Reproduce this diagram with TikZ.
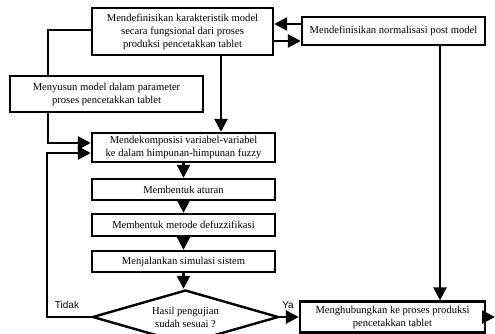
\documentclass[tikz,border=0pt]{standalone}
\usepackage{fontspec}
\setmainfont{Liberation Serif}
\newfontfamily\labelfont{Liberation Sans}
\usetikzlibrary{shapes.geometric, arrows.meta, positioning}
\tikzset{
	proc/.style ={rectangle, draw=black, line width=2.4pt, align=center, inner sep=1pt, font=\fontsize{10.6}{13}\selectfont},
	cond/.style ={diamond, aspect=3.4, draw=black, line width=2.4pt, align=center, inner sep=0pt, font=\fontsize{10.6}{13}\selectfont},
	flow/.style ={-{Triangle[length=13pt, width=13pt]}, line width=2.6pt},
	link/.style ={line width=2.6pt},
	yesno/.style={font=\labelfont\fontsize{10}{12}\selectfont},
}
\begin{document}
\begin{tikzpicture}[x=1pt, y=-1pt]
	\useasboundingbox (0,0) rectangle (495,334);
	% boxes
	\node[proc, minimum width=181pt, minimum height=47pt] (karakter) at (182.5,31.5) {Mendefinisikan karakteristik model\\secara fungsional dari proses\\produksi pencetakkan tablet};
	\node[proc, minimum width=183pt, minimum height=28pt] (normal) at (393.5,31) {Mendefinisikan normalisasi post model};
	\node[proc, minimum width=193pt, minimum height=36pt] (susun) at (106.5,94) {Menyusun model dalam parameter\\proses pencetakkan tablet};
	\node[proc, minimum width=183pt, minimum height=29pt] (dekomp) at (183.5,147.5) {Mendekomposisi variabel-variabel\\ke dalam himpunan-himpunan fuzzy};
	\node[proc, minimum width=183pt, minimum height=21pt] (aturan) at (183.5,189.5) {Membentuk aturan};
	\node[proc, minimum width=183pt, minimum height=22pt] (defuz) at (183.5,225) {Membentuk metode defuzzifikasi};
	\node[proc, minimum width=183pt, minimum height=21pt] (simul) at (183.5,261.5) {Menjalankan simulasi sistem};
	\node[cond, minimum width=186pt, minimum height=54pt] (uji) at (185.5,317) {Hasil pengujian\\sudah sesuai ?};
	\node[proc, minimum width=185pt, minimum height=31pt] (hubung) at (392.5,317) {Menghubungkan ke proses produksi\\pencetakkan tablet};
	\coordinate (keluar) at (495,317);
	% labels
	\node[yesno] (tidak) at (67,305) {Tidak};
	\node[yesno] (ya) at (288,305) {Ya};
	% connectors
	\draw[flow] ([yshift=7pt]normal.west) -- ([yshift=7.5pt]karakter.east);
	\draw[flow] ([yshift=-9.5pt]karakter.east) -- ([yshift=-10pt]normal.west);
	\draw[link] ([yshift=1.5pt]karakter.west) -| ([xshift=-58.5pt]susun.north);
	\draw[flow] ([xshift=-58.5pt]susun.south) |- ([yshift=4.5pt]dekomp.west);
	\draw[flow] ([xshift=38.5pt]karakter.south) -- ([xshift=37.5pt]dekomp.north);
	\draw[flow] (dekomp.south) -- (aturan.north);
	\draw[flow] (aturan.south) -- (defuz.north);
	\draw[flow] (defuz.south) -- (simul.north);
	\draw[flow] (simul.south) -- (simul.south |- uji.north);
	\draw[flow] (uji.west) -- ++(-44.5,0) |- ([yshift=-5.5pt]dekomp.west);
	\draw[flow] (uji.east) -- (hubung.west);
	\draw[flow] ([xshift=46.5pt]normal.south) -- ([xshift=47.5pt]hubung.north);
	\draw[flow] (hubung.east) -- (keluar);
\end{tikzpicture}
\end{document}
